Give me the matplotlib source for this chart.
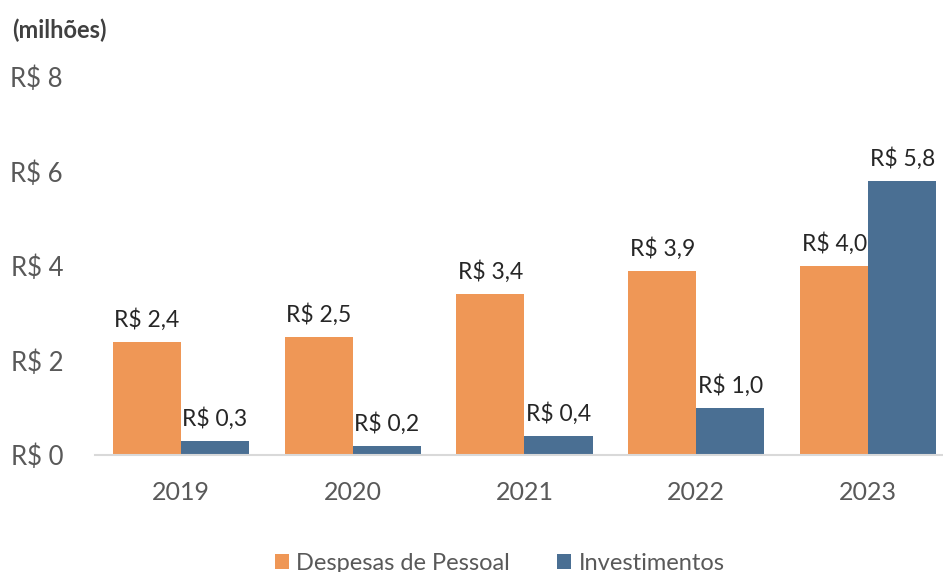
import matplotlib
matplotlib.use("Agg")
import matplotlib.pyplot as plt
import numpy as np

anos = ["2019", "2020", "2021", "2022", "2023"]
despesas_pessoal = [2.4, 2.5, 3.4, 3.9, 4.0]
investimentos = [0.3, 0.2, 0.4, 1.0, 5.8]
yticks = [0, 2, 4, 6, 8]

laranja = "#EF9756"
azul = "#4A6F93"
cinza = "#595959"

plt.rcParams["font.family"] = ["Lato", "DejaVu Sans"]

fig = plt.figure(figsize=(9.43, 5.72), dpi=100)
ax = fig.add_axes([0.1007, 0.2045, 0.911, 0.661])

x = np.arange(len(anos))
w = 0.396
b1 = ax.bar(x - w / 2, despesas_pessoal, w, color=laranja, label="Despesas de Pessoal")
b2 = ax.bar(x + w / 2, investimentos, w, color=azul, label="Investimentos")

def fmt(v):
    return "R$ " + f"{v:.1f}".replace(".", ",")

for bars, vals in [(b1, despesas_pessoal), (b2, investimentos)]:
    for r, v in zip(bars, vals):
        ax.annotate(fmt(v), (r.get_x() + r.get_width() / 2, v),
                    xytext=(0, 8), textcoords="offset points",
                    ha="center", va="bottom", fontsize=16.5, color="#262626")

ax.set_xlim(-0.5, len(anos) - 0.5)
ax.set_ylim(0, 8)
ax.set_xticks(x)
ax.set_xticklabels(anos)
ax.set_yticks(yticks)
ax.set_yticklabels([f"R$ {t}" for t in yticks])
ax.tick_params(axis="x", length=0, pad=19, labelsize=18, colors=cinza)
ax.tick_params(axis="y", length=0, pad=23, labelsize=18.5, colors=cinza)

for s in ["top", "right", "left"]:
    ax.spines[s].set_visible(False)
ax.spines["bottom"].set_color("#D9D9D9")
ax.spines["bottom"].set_linewidth(1.5)

fig.text(12 / 943, 1 - 30 / 572, "(milhões)", fontsize=17, fontweight="bold",
         color="#404040", va="center", ha="left")

fig.legend(loc="lower center", bbox_to_anchor=(0.53, -0.04), ncol=2,
           frameon=False, fontsize=17, handlelength=0.6, handleheight=0.6,
           handletextpad=0.3, columnspacing=2.0, labelcolor=cinza)

fig.savefig("out.png", dpi=100)
